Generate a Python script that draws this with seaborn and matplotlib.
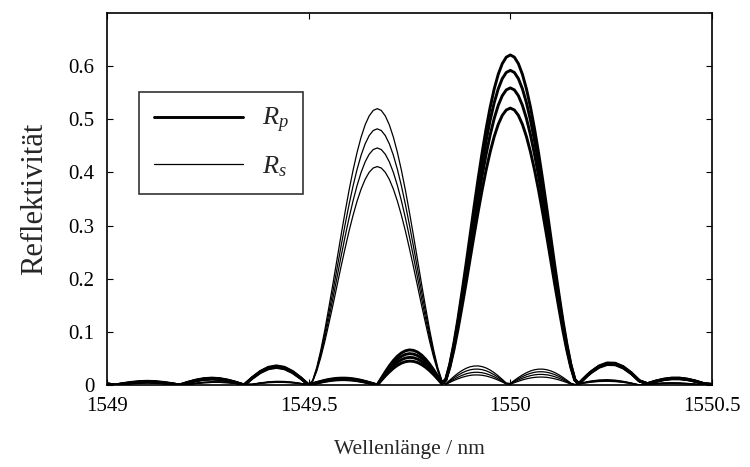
import numpy as np
import pandas as pd
import seaborn as sns
import matplotlib
matplotlib.use("Agg")
import matplotlib.pyplot as plt
from matplotlib.lines import Line2D

# wavelength grid in nm (finer around the two main lobes)
wavelength = [
    1549.00, 1549.02, 1549.04, 1549.06, 1549.08, 1549.10, 1549.12, 1549.14, 1549.16, 1549.18,
    1549.20, 1549.22, 1549.24, 1549.26, 1549.28, 1549.30, 1549.32, 1549.34, 1549.36, 1549.38,
    1549.40, 1549.42, 1549.44, 1549.46, 1549.48,
    1549.49, 1549.50, 1549.51, 1549.52, 1549.53, 1549.54, 1549.55, 1549.56, 1549.57, 1549.58, 1549.59,
    1549.60, 1549.61, 1549.62, 1549.63, 1549.64, 1549.65, 1549.66, 1549.67, 1549.68, 1549.69,
    1549.70, 1549.71, 1549.72, 1549.73, 1549.74, 1549.75, 1549.76, 1549.77, 1549.78, 1549.79,
    1549.80, 1549.81, 1549.82, 1549.83, 1549.84, 1549.85, 1549.86, 1549.87, 1549.88, 1549.89,
    1549.90, 1549.91, 1549.92, 1549.93, 1549.94, 1549.95, 1549.96, 1549.97, 1549.98, 1549.99,
    1550.00, 1550.01, 1550.02, 1550.03, 1550.04, 1550.05, 1550.06, 1550.07, 1550.08, 1550.09,
    1550.10, 1550.11, 1550.12, 1550.13, 1550.14, 1550.15, 1550.16, 1550.17, 1550.18, 1550.19, 1550.20,
    1550.22, 1550.24, 1550.26, 1550.28, 1550.30, 1550.32, 1550.34, 1550.36, 1550.38, 1550.40,
    1550.42, 1550.44, 1550.46, 1550.48, 1550.50,
]

# R_p curves (thick)
rp_1 = [
    0.002, 0, 0.0027, 0.0049, 0.0065, 0.0070, 0.0065, 0.0049, 0.0027, 0, 0.0050, 0.0092, 0.0120, 0.0130,
    0.0120, 0.0092, 0.0050, 0, 0.0138, 0.0255, 0.0333, 0.0360, 0.0333, 0.0255, 0.0138,
    0.0070, 0, 0.0024, 0.0047, 0.0068, 0.0088, 0.0104, 0.0116, 0.0125, 0.0129, 0.0129,
    0.0125, 0.0116, 0.0104, 0.0088, 0.0068, 0.0047, 0.0024, 0, 0.0126, 0.0248,
    0.0361, 0.0460, 0.0542, 0.0604, 0.0644, 0.0660, 0.0651, 0.0619, 0.0563, 0.0487,
    0.0393, 0.0285, 0.0164, 0.0038, 0.0105, 0.0395, 0.0782, 0.1235, 0.1741, 0.2264,
    0.2808, 0.3350, 0.3873, 0.4369, 0.4823, 0.5227, 0.5570, 0.5845, 0.6046, 0.6169,
    0.621, 0.6169, 0.6046, 0.5845, 0.5570, 0.5227, 0.4823, 0.4369, 0.3873, 0.3350,
    0.2808, 0.2264, 0.1741, 0.1235, 0.0782, 0.0395, 0.0105, 0.0024, 0.0104, 0.0180, 0.0249,
    0.0358, 0.0415, 0.0410, 0.0345, 0.0229, 0.0080, 0.0025, 0.0072, 0.0108, 0.0128,
    0.0128, 0.0108, 0.0072, 0.0025, 0.001,
]
rp_2 = [
    0.002, 0, 0.0023, 0.0042, 0.0055, 0.0060, 0.0055, 0.0042, 0.0023, 0, 0.0046, 0.0085, 0.0111, 0.0120,
    0.0111, 0.0085, 0.0046, 0, 0.0134, 0.0247, 0.0323, 0.0350, 0.0323, 0.0247, 0.0134,
    0.0068, 0, 0.0022, 0.0043, 0.0063, 0.0081, 0.0096, 0.0107, 0.0115, 0.0120, 0.0120,
    0.0115, 0.0107, 0.0096, 0.0081, 0.0063, 0.0043, 0.0022, 0, 0.0113, 0.0222,
    0.0322, 0.0411, 0.0485, 0.0540, 0.0576, 0.0590, 0.0582, 0.0553, 0.0503, 0.0435,
    0.0351, 0.0254, 0.0147, 0.0034, 0.0100, 0.0376, 0.0745, 0.1177, 0.1660, 0.2158,
    0.2677, 0.3193, 0.3692, 0.4165, 0.4598, 0.4983, 0.5310, 0.5572, 0.5764, 0.5881,
    0.592, 0.5881, 0.5764, 0.5572, 0.5310, 0.4983, 0.4598, 0.4165, 0.3692, 0.3193,
    0.2677, 0.2158, 0.1660, 0.1177, 0.0745, 0.0376, 0.0100, 0.0024, 0.0102, 0.0176, 0.0244,
    0.0350, 0.0405, 0.0400, 0.0337, 0.0224, 0.0078, 0.0025, 0.0072, 0.0108, 0.0128,
    0.0128, 0.0108, 0.0072, 0.0025, 0.001,
]
rp_3 = [
    0.002, 0, 0.0023, 0.0042, 0.0055, 0.0060, 0.0055, 0.0042, 0.0023, 0, 0.0046, 0.0085, 0.0111, 0.0120,
    0.0111, 0.0085, 0.0046, 0, 0.0130, 0.0240, 0.0314, 0.0340, 0.0314, 0.0240, 0.0130,
    0.0066, 0, 0.0020, 0.0040, 0.0058, 0.0074, 0.0088, 0.0098, 0.0106, 0.0110, 0.0110,
    0.0106, 0.0098, 0.0088, 0.0074, 0.0058, 0.0040, 0.0020, 0, 0.0100, 0.0196,
    0.0284, 0.0362, 0.0427, 0.0476, 0.0507, 0.0520, 0.0513, 0.0487, 0.0443, 0.0383,
    0.0309, 0.0224, 0.0129, 0.0030, 0.0094, 0.0355, 0.0704, 0.1112, 0.1568, 0.2038,
    0.2528, 0.3015, 0.3486, 0.3933, 0.4342, 0.4705, 0.5014, 0.5262, 0.5443, 0.5553,
    0.559, 0.5553, 0.5443, 0.5262, 0.5014, 0.4705, 0.4342, 0.3933, 0.3486, 0.3015,
    0.2528, 0.2038, 0.1568, 0.1112, 0.0704, 0.0355, 0.0094, 0.0023, 0.0099, 0.0172, 0.0238,
    0.0341, 0.0395, 0.0390, 0.0328, 0.0218, 0.0076, 0.0023, 0.0067, 0.0100, 0.0118,
    0.0118, 0.0100, 0.0067, 0.0023, 0.001,
]
rp_4 = [
    0.002, 0, 0.0019, 0.0035, 0.0046, 0.0050, 0.0046, 0.0035, 0.0019, 0, 0.0042, 0.0078, 0.0102, 0.0110,
    0.0102, 0.0078, 0.0042, 0, 0.0126, 0.0233, 0.0305, 0.0330, 0.0305, 0.0233, 0.0126,
    0.0064, 0, 0.0018, 0.0036, 0.0053, 0.0067, 0.0080, 0.0090, 0.0096, 0.0100, 0.0100,
    0.0096, 0.0090, 0.0080, 0.0067, 0.0053, 0.0036, 0.0018, 0, 0.0086, 0.0169,
    0.0246, 0.0314, 0.0370, 0.0412, 0.0439, 0.0450, 0.0444, 0.0422, 0.0384, 0.0332,
    0.0268, 0.0194, 0.0112, 0.0026, 0.0088, 0.0331, 0.0656, 0.1036, 0.1461, 0.1899,
    0.2356, 0.2810, 0.3249, 0.3665, 0.4047, 0.4385, 0.4673, 0.4904, 0.5073, 0.5175,
    0.521, 0.5175, 0.5073, 0.4904, 0.4673, 0.4385, 0.4047, 0.3665, 0.3249, 0.2810,
    0.2356, 0.1899, 0.1461, 0.1036, 0.0656, 0.0331, 0.0088, 0.0023, 0.0097, 0.0167, 0.0232,
    0.0333, 0.0385, 0.0381, 0.0320, 0.0213, 0.0074, 0.0023, 0.0067, 0.0100, 0.0118,
    0.0118, 0.0100, 0.0067, 0.0023, 0.001,
]

# R_s curves (thin)
rs_1 = [
    0.001, 0.0005, 0.0012, 0.0033, 0.0050, 0.0059, 0.0059, 0.0050, 0.0033, 0.0012, 0.0012, 0.0033, 0.0050, 0.0059,
    0.0059, 0.0050, 0.0033, 0.0012, 0.0014, 0.0040, 0.0060, 0.0069, 0.0067, 0.0054, 0.0032,
    0.0018, 0.0004, 0.0088, 0.0330, 0.0654, 0.1034, 0.1458, 0.1896, 0.2352, 0.2805, 0.3243,
    0.3658, 0.4039, 0.4377, 0.4664, 0.4895, 0.5063, 0.5166, 0.520, 0.5166, 0.5063,
    0.4895, 0.4664, 0.4377, 0.4039, 0.3658, 0.3243, 0.2805, 0.2352, 0.1896, 0.1458,
    0.1034, 0.0654, 0.0330, 0.0088, 0.0022, 0.0092, 0.0159, 0.0220, 0.0271, 0.0313,
    0.0342, 0.0357, 0.0359, 0.0346, 0.0320, 0.0281, 0.0231, 0.0172, 0.0106, 0.0036,
    0.0029, 0.0087, 0.0141, 0.0189, 0.0231, 0.0264, 0.0287, 0.0298, 0.0299, 0.0288,
    0.0266, 0.0235, 0.0194, 0.0146, 0.0092, 0.0035, 0.0008, 0.0027, 0.0044, 0.0061, 0.0075,
    0.0094, 0.0100, 0.0091, 0.0069, 0.0038, 0, 0.0015, 0.0028, 0.0037, 0.0040,
    0.0037, 0.0028, 0.0015, 0, 0.001,
]
rs_2 = [
    0.001, 0.0005, 0.0012, 0.0033, 0.0050, 0.0059, 0.0059, 0.0050, 0.0033, 0.0012, 0.0012, 0.0033, 0.0050, 0.0059,
    0.0059, 0.0050, 0.0033, 0.0012, 0.0012, 0.0035, 0.0051, 0.0059, 0.0058, 0.0046, 0.0027,
    0.0016, 0.0004, 0.0081, 0.0306, 0.0607, 0.0959, 0.1352, 0.1757, 0.2180, 0.2600, 0.3006,
    0.3391, 0.3744, 0.4057, 0.4323, 0.4537, 0.4693, 0.4788, 0.482, 0.4788, 0.4693,
    0.4537, 0.4323, 0.4057, 0.3744, 0.3391, 0.3006, 0.2600, 0.2180, 0.1757, 0.1352,
    0.0959, 0.0607, 0.0306, 0.0081, 0.0018, 0.0077, 0.0133, 0.0183, 0.0226, 0.0261,
    0.0285, 0.0298, 0.0299, 0.0289, 0.0267, 0.0234, 0.0192, 0.0143, 0.0089, 0.0030,
    0.0024, 0.0072, 0.0117, 0.0158, 0.0193, 0.0220, 0.0239, 0.0249, 0.0249, 0.0240,
    0.0222, 0.0196, 0.0162, 0.0122, 0.0077, 0.0029, 0.0007, 0.0024, 0.0040, 0.0055, 0.0067,
    0.0085, 0.0090, 0.0082, 0.0062, 0.0034, 0, 0.0015, 0.0028, 0.0037, 0.0040,
    0.0037, 0.0028, 0.0015, 0, 0.001,
]
rs_3 = [
    0.001, 0.0005, 0.0010, 0.0028, 0.0042, 0.0049, 0.0049, 0.0042, 0.0028, 0.0010, 0.0010, 0.0028, 0.0042, 0.0049,
    0.0049, 0.0042, 0.0028, 0.0010, 0.0012, 0.0035, 0.0051, 0.0059, 0.0058, 0.0046, 0.0027,
    0.0016, 0.0004, 0.0075, 0.0283, 0.0561, 0.0887, 0.1251, 0.1626, 0.2017, 0.2406, 0.2782,
    0.3138, 0.3464, 0.3754, 0.4000, 0.4198, 0.4342, 0.4430, 0.446, 0.4430, 0.4342,
    0.4198, 0.4000, 0.3754, 0.3464, 0.3138, 0.2782, 0.2406, 0.2017, 0.1626, 0.1251,
    0.0887, 0.0561, 0.0283, 0.0075, 0.0014, 0.0061, 0.0106, 0.0146, 0.0181, 0.0209,
    0.0228, 0.0238, 0.0239, 0.0231, 0.0213, 0.0187, 0.0154, 0.0114, 0.0071, 0.0024,
    0.0019, 0.0058, 0.0094, 0.0126, 0.0154, 0.0176, 0.0191, 0.0199, 0.0199, 0.0192,
    0.0178, 0.0156, 0.0129, 0.0097, 0.0062, 0.0023, 0.0006, 0.0021, 0.0036, 0.0048, 0.0060,
    0.0075, 0.0080, 0.0073, 0.0055, 0.0030, 0, 0.0011, 0.0021, 0.0028, 0.0030,
    0.0028, 0.0021, 0.0011, 0, 0.001,
]
rs_4 = [
    0.001, 0.0005, 0.0010, 0.0028, 0.0042, 0.0049, 0.0049, 0.0042, 0.0028, 0.0010, 0.0010, 0.0028, 0.0042, 0.0049,
    0.0049, 0.0042, 0.0028, 0.0010, 0.0010, 0.0029, 0.0043, 0.0050, 0.0048, 0.0039, 0.0023,
    0.0013, 0.0003, 0.0069, 0.0261, 0.0517, 0.0817, 0.1153, 0.1498, 0.1859, 0.2217, 0.2563,
    0.2892, 0.3192, 0.3459, 0.3686, 0.3869, 0.4002, 0.4083, 0.411, 0.4083, 0.4002,
    0.3869, 0.3686, 0.3459, 0.3192, 0.2892, 0.2563, 0.2217, 0.1859, 0.1498, 0.1153,
    0.0817, 0.0517, 0.0261, 0.0069, 0.0011, 0.0049, 0.0084, 0.0116, 0.0143, 0.0165,
    0.0181, 0.0189, 0.0189, 0.0183, 0.0169, 0.0148, 0.0122, 0.0091, 0.0056, 0.0019,
    0.0015, 0.0043, 0.0070, 0.0095, 0.0116, 0.0132, 0.0143, 0.0149, 0.0149, 0.0144,
    0.0133, 0.0117, 0.0097, 0.0073, 0.0046, 0.0018, 0.0005, 0.0019, 0.0031, 0.0042, 0.0052,
    0.0066, 0.0070, 0.0064, 0.0049, 0.0026, 0, 0.0011, 0.0021, 0.0028, 0.0030,
    0.0028, 0.0021, 0.0011, 0, 0.001,
]

x_ticks = [1549, 1549.5, 1550, 1550.5]
x_tick_labels = ["1549", "1549.5", "1550", "1550.5"]
y_ticks = [0, 0.1, 0.2, 0.3, 0.4, 0.5, 0.6]
y_tick_labels = ["0", "0.1", "0.2", "0.3", "0.4", "0.5", "0.6"]

sns.set_style("ticks")
plt.rcParams["font.family"] = ["Liberation Serif", "DejaVu Serif"]
plt.rcParams["mathtext.fontset"] = "custom"
plt.rcParams["mathtext.rm"] = "Liberation Serif"
plt.rcParams["mathtext.it"] = "Liberation Serif:italic"

frames = []
for name, curves in [("Rp", [rp_1, rp_2, rp_3, rp_4]), ("Rs", [rs_1, rs_2, rs_3, rs_4])]:
    for i, vals in enumerate(curves):
        frames.append(pd.DataFrame({"wavelength": wavelength, "R": vals,
                                    "pol": name, "curve": f"{name}{i}"}))
df = pd.concat(frames, ignore_index=True)

fig = plt.figure(figsize=(7.5, 4.67), dpi=100)
ax = fig.add_axes([0.1427, 0.1756, 0.8066, 0.7966])

widths = {"Rp": 2.1, "Rs": 0.9}
for cid, sub in df.groupby("curve", sort=False):
    pol = sub["pol"].iloc[0]
    sns.lineplot(data=sub, x="wavelength", y="R", ax=ax, color="black",
                 linewidth=widths[pol], estimator=None, sort=False, legend=False)

ax.set_xlim(1549, 1550.5)
ax.set_ylim(0, 0.7)
ax.set_xticks(x_ticks)
ax.set_xticklabels(x_tick_labels)
ax.set_yticks(y_ticks)
ax.set_yticklabels(y_tick_labels)
ax.tick_params(direction="in", length=4, width=0.8, top=True, right=True,
               labelsize=15, colors="black")
ax.tick_params(axis="x", pad=9)
ax.tick_params(axis="y", pad=9)
for sp in ax.spines.values():
    sp.set_visible(True)
    sp.set_linewidth(1.2)
    sp.set_color("black")

ax.set_xlabel("Wellenlänge / nm", fontsize=15.5, labelpad=17)
ax.set_ylabel("Reflektivität", fontsize=22, labelpad=14)

handles = [Line2D([0], [0], color="black", linewidth=2.1),
           Line2D([0], [0], color="black", linewidth=0.9)]
leg = ax.legend(handles, [r"$R_p$", r"$R_s$"], loc="upper left",
                bbox_to_anchor=(0.053, 0.788), fontsize=19, frameon=True,
                fancybox=False, handlelength=3.4, handletextpad=0.7,
                borderpad=0.55, labelspacing=0.72, borderaxespad=0)
leg.get_frame().set_edgecolor("black")
leg.get_frame().set_linewidth(1.2)

fig.savefig("out.png", dpi=100)
